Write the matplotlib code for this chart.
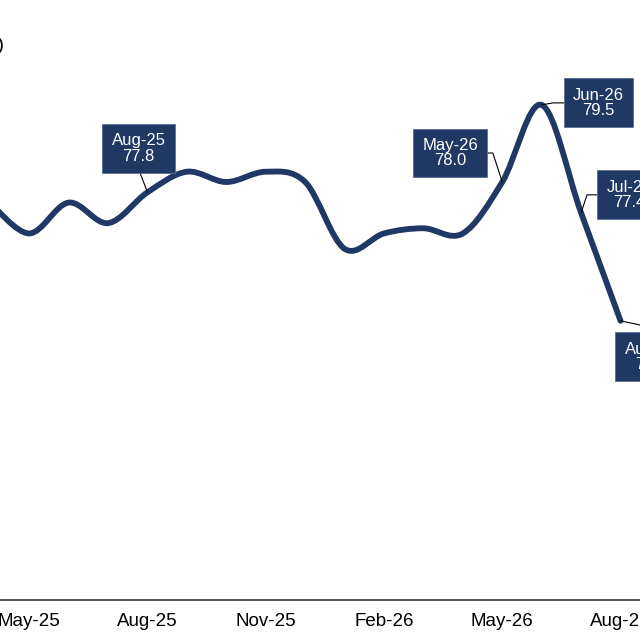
import numpy as np
import matplotlib
matplotlib.use("Agg")
import matplotlib.pyplot as plt
from matplotlib.path import Path
from matplotlib.patches import PathPatch

plt.rcParams['font.family'] = ['Liberation Sans', 'DejaVu Sans']

# monthly index values
months = ['Apr-25', 'May-25', 'Jun-25', 'Jul-25', 'Aug-25', 'Sep-25', 'Oct-25', 'Nov-25',
          'Dec-25', 'Jan-26', 'Feb-26', 'Mar-26', 'Apr-26', 'May-26', 'Jun-26', 'Jul-26', 'Aug-26']
values = [77.6, 77.0, 77.6, 77.2, 77.8, 78.2, 78.0, 78.2,
          78.0, 76.7, 77.0, 77.1, 77.0, 78.0, 79.5, 77.4, 75.3]
tick_labels = ['May-25', 'Aug-25', 'Nov-25', 'Feb-26', 'May-26', 'Aug-26']
labelled = ['Aug-25', 'May-26', 'Jun-26', 'Jul-26', 'Aug-26']

navy = '#1f3864'

fig = plt.figure(figsize=(6.4, 6.4), dpi=100)
ax = fig.add_axes([0, 0.0625, 1, 0.9375])

x = np.arange(len(months))
y = np.array(values)

# smooth line (catmull-rom bezier through the monthly points)
pts = np.column_stack([x, y])
verts = [pts[0]]
codes = [Path.MOVETO]
n = len(pts)
for i in range(n - 1):
    p0 = pts[i - 1] if i > 0 else pts[i]
    p1 = pts[i]
    p2 = pts[i + 1]
    p3 = pts[i + 2] if i + 2 < n else pts[i + 1]
    verts += [p1 + (p2 - p0) / 6, p2 - (p3 - p1) / 6, p2]
    codes += [Path.CURVE4] * 3
ax.add_patch(PathPatch(Path(verts, codes), fill=False, edgecolor=navy, lw=4.2,
                       capstyle='round', joinstyle='round', zorder=3))

ax.set_xlim(0.258, 16.494)
ax.set_ylim(69.87, 81.54)

ax.set_xticks([months.index(m) for m in tick_labels])
ax.set_xticklabels(tick_labels, fontsize=13.5)
ax.tick_params(axis='x', length=0, pad=9)
ax.set_yticks([])
for s in ['left', 'right', 'top']:
    ax.spines[s].set_visible(False)
ax.spines['bottom'].set_color('#333333')
ax.spines['bottom'].set_linewidth(1.2)

# label boxes: offset in pixels and connector angles
offsets = {'Aug-25': (-9, 44), 'May-26': (-52, 29), 'Jun-26': (57, 2),
           'Jul-26': (48, 18), 'Aug-26': (31, -36)}
angles = {'Aug-25': (90, 111), 'May-26': (0, 108), 'Jun-26': (0, 10),
          'Jul-26': (0, 72), 'Aug-26': (90, -12)}
for m in labelled:
    i = months.index(m)
    aA, aB = angles[m]
    ax.annotate(f'{m}\n{values[i]:.1f}', xy=(i, values[i]), xytext=offsets[m],
                textcoords='offset pixels', ha='center', va='center',
                color='white', fontsize=12, linespacing=1.05, zorder=5,
                bbox=dict(boxstyle='square,pad=0.55', fc=navy, ec='#5b6f94', lw=0.6),
                arrowprops=dict(arrowstyle='-', color='black', lw=0.8, shrinkA=0, shrinkB=0,
                                connectionstyle=f'angle,angleA={aA},angleB={aB},rad=0'))

fig.text(5 / 640, 1 - 45 / 640, '(Index)', ha='right', va='center', fontsize=14)

fig.savefig('out.png', dpi=100)
